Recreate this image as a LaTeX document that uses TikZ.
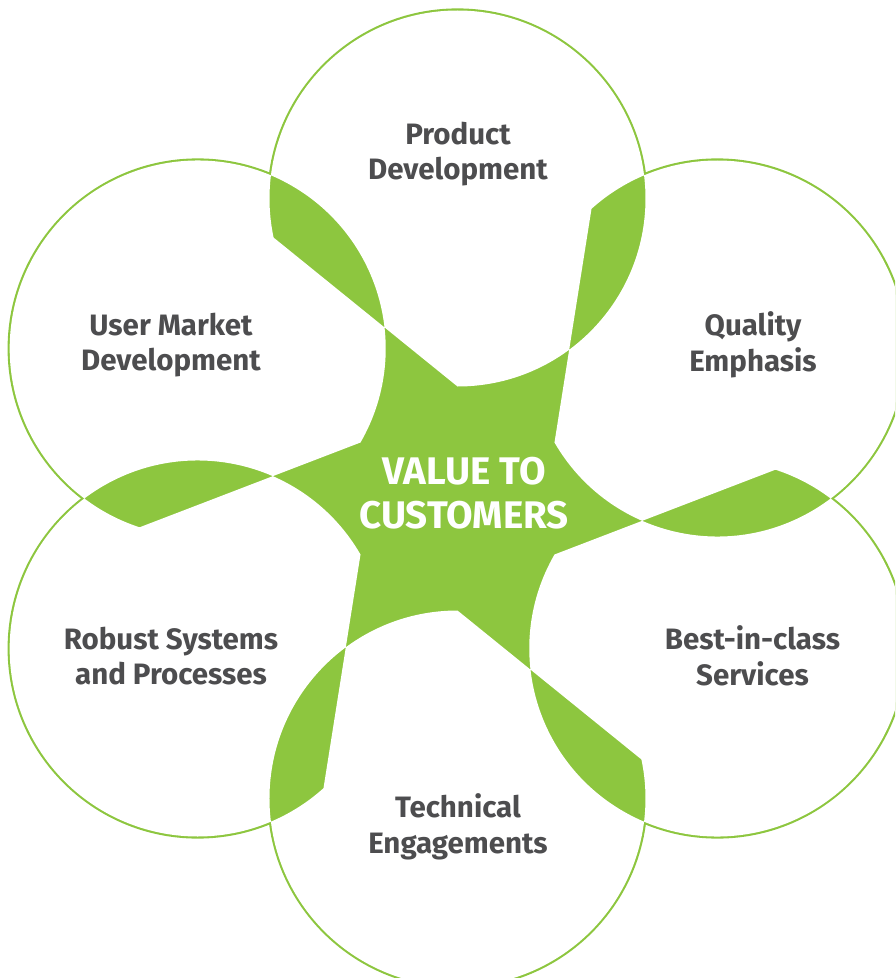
\documentclass[tikz,border=0pt]{standalone}
\usepackage{fontspec}
\setmainfont{Fira Sans}
\usepackage{tikz}
\usetikzlibrary{positioning}
\definecolor{leafgreen}{RGB}{141,198,63}
\definecolor{inkgray}{RGB}{77,77,79}

\begin{document}
\begin{tikzpicture}[
    x=1pt, y=1pt,
    ringline/.style={draw=leafgreen, line width=4.2pt},
    graytextnode/.style={align=center, text=inkgray, inner sep=0pt, font=\fontsize{29.5}{35.5}\selectfont\bfseries},
    whitetextnode/.style={align=center, text=white, inner sep=0pt, font=\fontsize{38.5}{44}\selectfont\bfseries},
    ]

    \useasboundingbox (-457.5,-479.5) rectangle (437.5,498.5);
    \clip (-457.5,-479.5) rectangle (437.5,498.5);

    % circle centres, clockwise from the top
    \coordinate (pd) at (90:300);
    \coordinate (qe) at (30:300);
    \coordinate (bs) at (-30:300);
    \coordinate (te) at (-90:300);
    \coordinate (rs) at (-150:300);
    \coordinate (um) at (150:300);

    % outer rim (inner half is covered by the fills below)
    \foreach \c in {pd,qe,bs,te,rs,um}
        \draw[ringline] (\c) circle[radius=188];

    % green body: the discs and the hole between them
    \fill[leafgreen] (pd) -- (qe) -- (bs) -- (te) -- (rs) -- (um) -- cycle;
    \foreach \c in {pd,qe,bs,te,rs,um}
        \fill[leafgreen] (\c) circle[radius=188];

    % white petals: each disc minus a segment, overlaps stay green
    \fill[white, even odd rule]
        \foreach \a in {90,30,-30,-90,-150,150} {
            (\a:112) arc[start angle=\a+180, end angle=\a+462, radius=188] -- cycle
        };

    \node[whitetextnode] (hub)    at (6.5,5.5)      {VALUE TO\\CUSTOMERS};
    \node[graytextnode]  (pdtext) at (0.5,344.5)    {Product\\Development};
    \node[graytextnode]  (qetext) at (295.5,153.5)  {Quality\\Emphasis};
    \node[graytextnode]  (bstext) at (295,-157.5)   {Best-in-class\\Services};
    \node[graytextnode]  (tetext) at (0.5,-328.5)   {Technical\\Engagements};
    \node[graytextnode]  (rstext) at (-286.5,-157.5) {Robust Systems\\and Processes};
    \node[graytextnode]  (umtext) at (-286.5,153.5) {User Market\\Development};

\end{tikzpicture}
\end{document}
